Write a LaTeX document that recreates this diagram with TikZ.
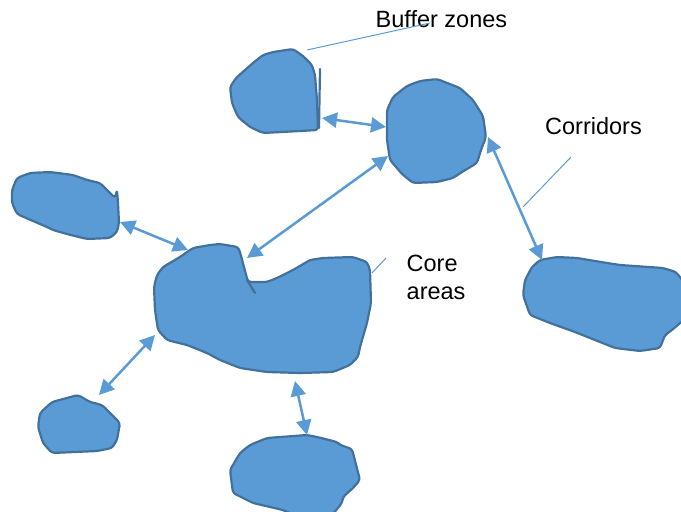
\documentclass[tikz,border=0pt]{standalone}
\usepackage{fontspec}
\setmainfont{Liberation Sans}
\usetikzlibrary{arrows.meta}
\definecolor{blobfill}{HTML}{5B9BD5}
\definecolor{blobline}{HTML}{41719C}
\definecolor{arrowc}{HTML}{5B9BD5}
\tikzset{
  blob/.style={fill=blobfill, draw=blobline, line width=2.2pt, rounded corners=3pt, line join=round},
  spike/.style={draw=blobline, line width=2.2pt, line cap=round},
  biarrow/.style={draw=arrowc, line width=2.5pt, {Triangle[length=15pt,width=15pt]}-{Triangle[length=15pt,width=15pt]}},
  leader/.style={draw=arrowc, line width=1pt},
  lbl/.style={inner sep=0pt, font=\fontsize{23.5}{28}\selectfont, text=black}
}
\begin{document}
\begin{tikzpicture}[x=1pt,y=-1pt]
\useasboundingbox (0,0) rectangle (681,512);
\fill[white] (0,0) rectangle (681,512);

% Blob A (buffer zone, top left)
\draw[blob] (263,55) -- (273,52) -- (293,49) -- (303,56) -- (312,65) -- (315,75) -- (317,100) -- (318,130) -- (300,131) -- (263,133) -- (250,127) -- (238,117) -- (232,103) -- (230,87) -- (236,78) -- (245,70) -- (253,63) -- cycle;
\draw[spike] (320,69) -- (319,128);

% Blob B (top center)
\draw[blob] (420,81) -- (437,79) -- (460,88) -- (473,100) -- (483,116) -- (486,137) -- (481,150) -- (477,163) -- (462,172) -- (453,178) -- (437,182) -- (413,183) -- (402,174) -- (390,160) -- (387,140) -- (387,110) -- (393,97) -- (407,86) -- cycle;

% Blob C (left)
\draw[blob] (17,178) -- (30,173) -- (50,172) -- (73,175) -- (87,180) -- (100,183) -- (110,193) -- (115,198) -- (117,190) -- (118,203) -- (119,223) -- (117,232) -- (110,238) -- (87,239) -- (67,234) -- (53,230) -- (47,227) -- (33,221) -- (17,214) -- (12,203) -- (12,190) -- cycle;

% Blob D (core area)
\draw[blob] (163,267) -- (180,257) -- (193,248) -- (210,245) -- (220,244) -- (238,247) -- (240,252) -- (248,282) -- (267,282) -- (277,278) -- (293,270) -- (310,260) -- (323,258) -- (353,257) -- (367,262) -- (370,270) -- (371,303) -- (367,323) -- (360,347) -- (358,357) -- (350,365) -- (333,372) -- (300,373) -- (267,372) -- (240,368) -- (220,360) -- (207,353) -- (187,345) -- (167,340) -- (158,330) -- (155,310) -- (154,287) -- (157,275) -- cycle;
\draw[spike] (247,280) -- (255,293);

% Blob E (right)
\draw[blob] (540,260) -- (557,257) -- (577,258) -- (607,263) -- (620,265) -- (663,268) -- (676,272) -- (686,285) -- (686,318) -- (672,330) -- (665,335) -- (660,348) -- (640,351) -- (615,348) -- (600,342) -- (575,332) -- (550,323) -- (530,315) -- (523,295) -- (525,280) -- (532,267) -- cycle;

% Blob F (bottom left)
\draw[blob] (52,402) -- (78,395) -- (90,402) -- (102,405) -- (120,423) -- (117,440) -- (112,448) -- (97,451) -- (52,453) -- (43,443) -- (38,427) -- (40,413) -- cycle;

% Blob G (bottom center)
\draw[blob] (240,453) -- (250,445) -- (267,438) -- (307,435) -- (317,437) -- (337,442) -- (340,445) -- (352,449) -- (360,480) -- (353,488) -- (343,497) -- (342,503) -- (333,514) -- (300,518) -- (283,510) -- (253,503) -- (233,493) -- (230,470) -- cycle;

% Arrow end points
\coordinate (ab1) at (322,118);
\coordinate (ab2) at (386,127);
\coordinate (bd1) at (388,156);
\coordinate (bd2) at (247,258);
\coordinate (be1) at (488,137);
\coordinate (be2) at (542,260);
\coordinate (cd1) at (120,222);
\coordinate (cd2) at (188,250);
\coordinate (df1) at (155,335);
\coordinate (df2) at (99,395);
\coordinate (dg1) at (295,381);
\coordinate (dg2) at (307,435);

\draw[biarrow] (ab1) -- (ab2);
\draw[biarrow] (bd1) -- (bd2);
\draw[biarrow] (be1) -- (be2);
\draw[biarrow] (cd1) -- (cd2);
\draw[biarrow] (df1) -- (df2);
\draw[biarrow] (dg1) -- (dg2);

% Labels
\node[lbl, anchor=base west] (buf) at (375.5,27) {Buffer zones};
\node[lbl, anchor=base west] (cor) at (545,134) {Corridors};
\node[lbl, anchor=north west, align=left] (core) at (406.5,255) {Core\\areas};

% Leader lines
\coordinate (bufA) at (307,50);
\coordinate (bufT) at (430,23);
\coordinate (corA) at (523,207);
\coordinate (corT) at (571,157);
\coordinate (coreA) at (372,273);
\coordinate (coreT) at (386,258);
\draw[leader] (bufA) -- (bufT);
\draw[leader] (corA) -- (corT);
\draw[leader] (coreA) -- (coreT);
\end{tikzpicture}
\end{document}
